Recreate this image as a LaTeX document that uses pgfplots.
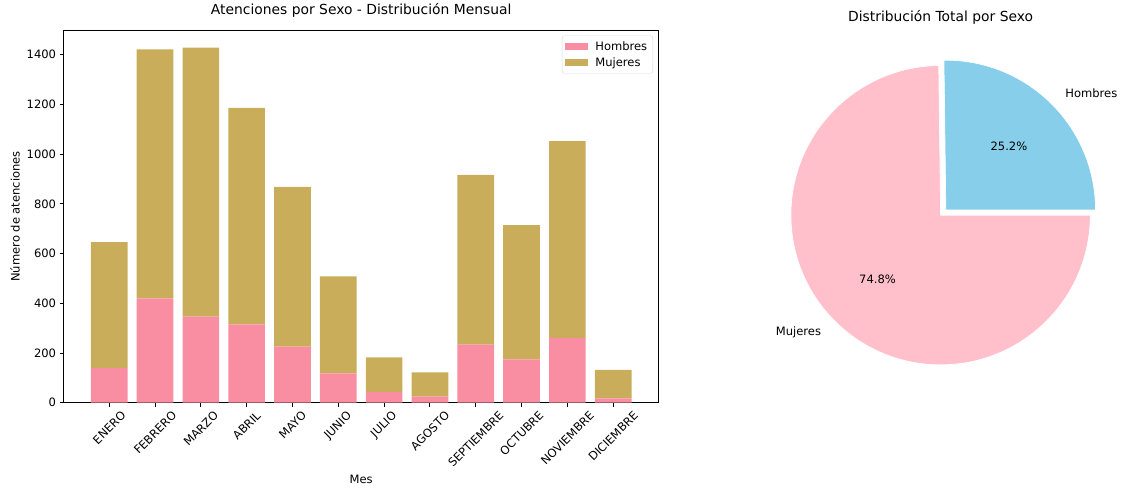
\documentclass[border=0pt]{standalone}
\usepackage{fontspec}
\setmainfont{DejaVu Sans}
\usepackage{pgfplots}
\pgfplotsset{compat=1.18}
\usepackage{pgfplotstable}
\definecolor{hombres}{HTML}{F98DA1}
\definecolor{mujeres}{HTML}{C9AD5B}
\definecolor{skyblue}{HTML}{87CEEB}
\definecolor{pinkc}{HTML}{FFC0CB}
\definecolor{legframe}{HTML}{D9D9D9}

\pgfplotstableread{
x h m
0 139 507
1 420 1001
2 346 1082
3 315 871
4 226 642
5 118 390
6 44 138
7 25 97
8 234 682
9 174 540
10 261 791
11 18 114
}\datos

% pie shares (percent)
\pgfmathsetmacro{\pH}{25.2}
\pgfmathsetmacro{\angH}{3.6*\pH}
\pgfmathsetmacro{\midH}{\angH/2}
\pgfmathsetmacro{\midM}{(\angH+360)/2}

\newcommand{\fsn}{\fontsize{10.4}{12.5}\selectfont}
\newcommand{\fst}{\fontsize{12.5}{15}\selectfont}

\begin{document}
\begin{tikzpicture}
\path (0,0) rectangle (1008.9pt,440.1pt);
\begin{axis}[
  at={(57.6pt,78.03pt)}, anchor=south west,
  width=536.4pt, height=336.2pt, scale only axis,
  ybar stacked, bar width=0.8,
  xmin=-0.99, xmax=11.99, ymin=0, ymax=1499,
  xtick={0,...,11},
  xticklabels={\rotatebox{45}{ENERO},\rotatebox{45}{FEBRERO},\rotatebox{45}{MARZO},\rotatebox{45}{ABRIL},\rotatebox{45}{MAYO},\rotatebox{45}{JUNIO},\rotatebox{45}{JULIO},\rotatebox{45}{AGOSTO},\rotatebox{45}{SEPTIEMBRE},\rotatebox{45}{OCTUBRE},\rotatebox{45}{NOVIEMBRE},\rotatebox{45}{DICIEMBRE}},
  ytick={0,200,...,1400},
  xtick pos=bottom, ytick pos=left,
  tick align=outside, major tick length=3.5pt,
  tick style={black, line width=0.8pt},
  axis line style={line width=0.8pt},
  tick label style={font=\fsn},
  /pgf/number format/assume math mode=true,
  /pgf/number format/1000 sep={},
  xlabel={Mes}, ylabel={Número de atenciones},
  label style={font=\fsn},
  xlabel style={at={(axis description cs:0.5,-0.2053)}, anchor=center},
  ylabel style={at={(axis description cs:-0.0822,0.5)}, anchor=center},
  title={Atenciones por Sexo - Distribución Mensual},
  title style={at={(axis description cs:0.5,1.034)}, anchor=center, font=\fst},
  legend style={at={(1,1)}, anchor=north east, xshift=-5pt, yshift=-5pt,
    draw=legframe, rounded corners=2pt, font=\fsn,
    inner sep=3pt, row sep=1pt},
  legend cell align=left,
  legend image code/.code={\fill[#1, sharp corners] (0pt,-3.5pt) rectangle (20pt,3.5pt); \path (25pt,0pt);},
]
\addplot[fill=hombres, draw=none] table[x=x,y=h]{\datos};
\addlegendentry{Hombres}
\addplot[fill=mujeres, draw=none] table[x=x,y=m]{\datos};
\addlegendentry{Mujeres}
\end{axis}

\begin{axis}[
  at={(848.4pt,247.2pt)}, anchor=center,
  width=337.5pt, height=337.5pt, scale only axis,
  xmin=-1.25, xmax=1.25, ymin=-1.25, ymax=1.25,
  hide axis, clip=false,
]
\fill[skyblue, draw=white, line width=0.6pt] (axis cs:{0.05*cos(\midH)},{0.05*sin(\midH)}) -- ++(0:135pt) arc[start angle=0, end angle=\angH, radius=135pt] -- cycle;
\fill[pinkc, draw=white, line width=0.6pt] (axis cs:0,0) -- ++(\angH:135pt) arc[start angle=\angH, end angle=360, radius=135pt] -- cycle;
\node[anchor=west, font=\fsn] at (axis cs:{0.05*cos(\midH)+1.1*cos(\midH)},{0.05*sin(\midH)+1.1*sin(\midH)}) {Hombres};
\node[anchor=center, font=\fsn] at (axis cs:{0.05*cos(\midH)+0.6*cos(\midH)},{0.05*sin(\midH)+0.6*sin(\midH)}) {25.2\%};
\node[anchor=east, font=\fsn] at (axis cs:{1.1*cos(\midM)},{1.1*sin(\midM)}) {Mujeres};
\node[anchor=center, font=\fsn] at (axis cs:{0.6*cos(\midM)},{0.6*sin(\midM)}) {74.8\%};
\node[anchor=center, font=\fst] at (axis cs:0,1.322) {Distribución Total por Sexo};
\end{axis}
\end{tikzpicture}
\end{document}
